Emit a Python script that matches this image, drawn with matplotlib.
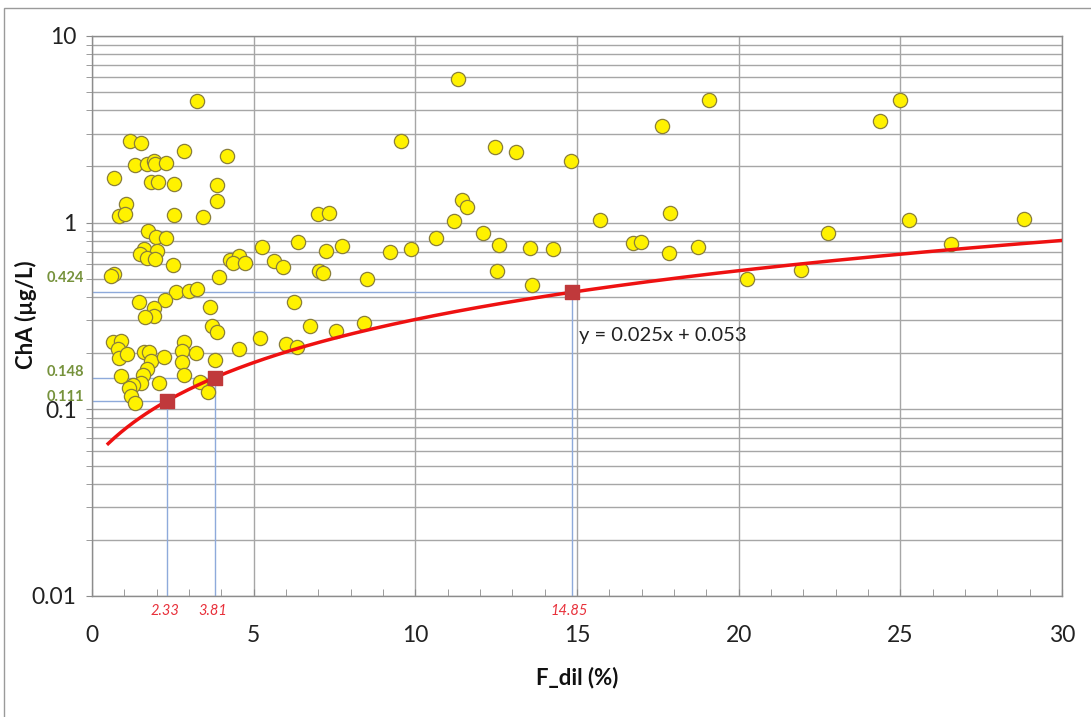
import matplotlib
matplotlib.use("Agg")
import matplotlib.pyplot as plt
import numpy as np
from matplotlib.ticker import FixedLocator, NullFormatter, LogLocator
from matplotlib.patches import Rectangle

plt.rcParams['font.family'] = ['Lato', 'DejaVu Sans']

# ---- data (F_dil %, ChA ug/L) ----
f_dil = [3.25, 1.19, 1.50, 2.84, 4.18, 1.32, 1.70, 1.91, 1.94, 2.28,
         0.69, 1.82, 2.04, 2.53, 3.88, 3.87, 1.04, 0.83, 1.01, 2.54,
         3.44, 1.73, 1.98, 2.28, 1.60, 2.01, 1.47, 1.71, 1.94, 2.49,
         0.69, 0.58, 4.26, 4.56, 4.35, 4.74, 3.94, 5.26, 2.61, 2.99,
         3.24, 1.44, 2.27, 1.92, 1.91, 1.64, 3.64, 3.72, 3.87, 5.19,
         0.64, 0.91, 0.81, 0.83, 1.09, 1.60, 1.75, 1.84, 1.70, 1.58,
         1.53, 1.26, 1.14, 1.20, 1.34, 0.91, 2.08, 2.24, 2.84, 2.79,
         2.79, 3.23, 3.79, 2.84, 3.33, 3.59, 4.56, 6.36, 7.24, 7.74,
         5.64, 5.91, 7.01, 7.13, 8.49, 9.22, 9.86, 10.64, 6.25, 6.73,
         7.55, 8.40, 6.01, 6.34, 6.99, 7.34, 9.55, 11.33, 12.47, 13.11,
         14.80, 11.43, 11.59, 11.20, 12.08, 12.59, 13.56, 14.27, 12.54, 13.61,
         15.72, 17.63, 19.09, 17.89, 16.72, 16.98, 17.83, 18.73, 20.27, 21.92,
         22.77, 24.38, 25.00, 25.27, 26.57, 28.82]
cha = [4.50, 2.74, 2.66, 2.43, 2.28, 2.03, 2.07, 2.14, 2.06, 2.10,
       1.74, 1.65, 1.65, 1.61, 1.59, 1.31, 1.26, 1.08, 1.11, 1.10,
       1.07, 0.903, 0.835, 0.825, 0.723, 0.708, 0.680, 0.645, 0.637, 0.596,
       0.531, 0.520, 0.631, 0.666, 0.608, 0.608, 0.514, 0.738, 0.425, 0.429,
       0.440, 0.376, 0.387, 0.350, 0.318, 0.311, 0.352, 0.280, 0.259, 0.240,
       0.229, 0.233, 0.210, 0.188, 0.197, 0.202, 0.202, 0.182, 0.165, 0.153,
       0.139, 0.135, 0.130, 0.118, 0.108, 0.151, 0.139, 0.190, 0.229, 0.206,
       0.180, 0.200, 0.184, 0.152, 0.140, 0.124, 0.210, 0.788, 0.703, 0.753,
       0.621, 0.577, 0.553, 0.540, 0.497, 0.694, 0.727, 0.823, 0.377, 0.281,
       0.264, 0.291, 0.223, 0.215, 1.11, 1.12, 2.73, 5.88, 2.54, 2.39,
       2.14, 1.33, 1.21, 1.02, 0.884, 0.762, 0.735, 0.720, 0.553, 0.464,
       1.03, 3.31, 4.52, 1.13, 0.779, 0.791, 0.688, 0.741, 0.499, 0.558,
       0.877, 3.52, 4.52, 1.03, 0.772, 1.04]

fit_slope = 0.025
fit_intercept = 0.053
fit_x_range = [0.5, 30.0]

mark_x = [2.33, 3.81, 14.85]
mark_y = [0.111, 0.148, 0.424]
mark_x_labels = ["2.33", "3.81", "14.85"]
mark_y_labels = ["0.111", "0.148", "0.424"]

x_ticks = [0, 5, 10, 15, 20, 25, 30]
y_ticks = [0.01, 0.1, 1, 10]
y_tick_labels = ["0.01", "0.1", "1", "10"]

# ---- figure ----
fig = plt.figure(figsize=(10.91, 7.17), dpi=100)
ax = fig.add_axes([92/1091, 1 - 596/717, (1062-92)/1091, (596-36)/717])

# outer chart-area border
fig.patches.append(Rectangle((4/1091, -0.2), 1.3, 1.2 - 8/717, transform=fig.transFigure,
                             fill=False, edgecolor='#9a9a9a', linewidth=1.0))

ax.set_yscale('log')
ax.set_xlim(0, 30)
ax.set_ylim(0.01, 10)

grid_col = '#a6a6a6'
ax.xaxis.set_major_locator(FixedLocator(x_ticks))
ax.xaxis.set_minor_locator(FixedLocator(np.arange(0, 31, 1)))
ax.yaxis.set_major_locator(FixedLocator(y_ticks))
ax.yaxis.set_minor_locator(LogLocator(base=10, subs=np.arange(2, 10)))
ax.yaxis.set_minor_formatter(NullFormatter())
ax.set_yticklabels(y_tick_labels)
ax.set_xticklabels([str(t) for t in x_ticks])

ax.grid(True, which='major', axis='both', color=grid_col, linewidth=1.0)
ax.grid(True, which='minor', axis='y', color=grid_col, linewidth=1.0)
ax.set_axisbelow(True)

for s in ax.spines.values():
    s.set_color('#8c8c8c')
    s.set_linewidth(1.0)

ax.tick_params(axis='x', which='both', direction='in', length=5, color='#8c8c8c',
               labelsize=16.5, pad=21, labelcolor='#222222')
ax.tick_params(axis='y', which='both', direction='out', length=4, color='#8c8c8c',
               labelsize=16.5, pad=7, labelcolor='#222222')

# guide lines
guide_col = '#8eaadb'
for xv, yv in zip(mark_x, mark_y):
    ax.plot([0, xv], [yv, yv], color=guide_col, linewidth=1.0, zorder=2)
    ax.plot([xv, xv], [0.01, yv], color=guide_col, linewidth=1.0, zorder=2)

# scatter
ax.scatter(f_dil, cha, s=105, facecolor='#FFF200', edgecolor='#8a7f3a', linewidth=0.9, zorder=3)

# fit curve
xf = np.linspace(fit_x_range[0], fit_x_range[1], 300)
ax.plot(xf, fit_slope * xf + fit_intercept, color='#ee1111', linewidth=2.5, zorder=4)

# squares
ax.scatter(mark_x, mark_y, marker='s', s=90, color='#c0393b', zorder=5)

# labels for marks
for xv, lab in zip(mark_x, mark_x_labels):
    ax.annotate(lab, xy=(xv, 0.01), xytext=(-2, -11), textcoords='offset points',
                ha='center', va='center', color='#e8303a', fontsize=10.5, style='italic',
                annotation_clip=False)
y_label_offsets = [3, 4, 10]
for yv, lab, off in zip(mark_y, mark_y_labels, y_label_offsets):
    ax.annotate(lab, xy=(0, yv), xytext=(-6, off), textcoords='offset points',
                ha='right', va='center', color='#76923c', fontsize=10.5, fontweight='bold',
                annotation_clip=False)

ax.text(15.05, 0.25, "y = 0.025x + 0.053", fontsize=14.5, color='#222222', ha='left', va='center')

ax.set_xlabel("F_dil (%)", fontsize=16, fontweight='bold', color='#111111')
ax.set_ylabel("ChA (µg/L)", fontsize=16, fontweight='bold', color='#111111')
ax.xaxis.set_label_coords(0.5, -0.127)
ax.yaxis.set_label_coords(-0.057, 0.502)

fig.savefig("out.png", dpi=100)
